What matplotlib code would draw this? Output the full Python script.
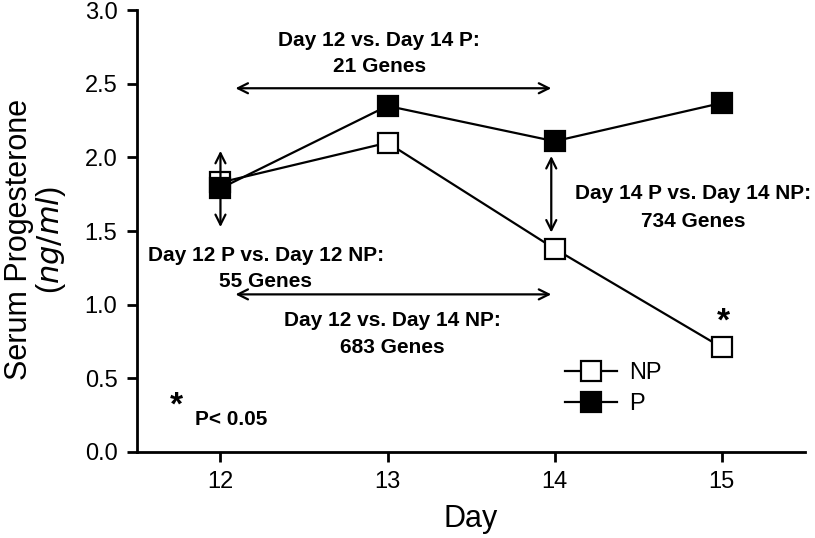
import matplotlib.pyplot as plt

plt.rcParams['font.family'] = ['Liberation Sans', 'DejaVu Sans']

days = [12, 13, 14, 15]
np_vals = [1.83, 2.10, 1.38, 0.71]
p_vals = [1.79, 2.35, 2.11, 2.37]
yticks = [0.0, 0.5, 1.0, 1.5, 2.0, 2.5, 3.0]
ytick_labels = ["0.0", "0.5", "1.0", "1.5", "2.0", "2.5", "3.0"]

fig = plt.figure(figsize=(8.15, 5.38), dpi=100)
ax = fig.add_axes([0.168, 0.160, 0.820, 0.821])

ax.plot(days, np_vals, color="black", lw=1.6, marker="s", ms=15,
        mfc="white", mec="black", mew=1.6, label="NP", zorder=3)
ax.plot(days, p_vals, color="black", lw=1.6, marker="s", ms=15,
        mfc="black", mec="black", mew=1.6, label="P", zorder=3)

# comparison arrows
arrow = dict(arrowstyle="<->", color="black", lw=1.6, mutation_scale=18,
             shrinkA=0, shrinkB=0)
ax.annotate("", xy=(12.09, 2.47), xytext=(13.98, 2.47), arrowprops=arrow)
ax.annotate("", xy=(12.0, 2.045), xytext=(12.0, 1.527), arrowprops=arrow)
ax.annotate("", xy=(13.98, 2.01), xytext=(13.98, 1.49), arrowprops=arrow)
ax.annotate("", xy=(12.09, 1.07), xytext=(13.98, 1.07), arrowprops=arrow)

bold = dict(fontsize=15, fontweight="bold", ha="center", va="baseline")
ax.text(12.95, 2.76, "Day 12 vs. Day 14 P:", **bold)
ax.text(12.95, 2.58, "21 Genes", **bold)
ax.text(12.27, 1.30, "Day 12 P vs. Day 12 NP:", **bold)
ax.text(12.27, 1.12, "55 Genes", **bold)
ax.text(13.03, 0.852, "Day 12 vs. Day 14 NP:", **bold)
ax.text(13.03, 0.675, "683 Genes", **bold)
ax.text(14.83, 1.72, "Day 14 P vs. Day 14 NP:", **bold)
ax.text(14.83, 1.53, "734 Genes", **bold)

star = dict(fontsize=24, fontweight="bold", ha="center", va="center")
ax.text(15.01, 0.88, "*", **star)
ax.text(11.737, 0.31, "*", **star)
ax.text(11.85, 0.184, "P< 0.05", fontsize=15, fontweight="bold",
        ha="left", va="baseline")

ax.legend(loc="center", bbox_to_anchor=(0.713, 0.143), frameon=False,
          fontsize=17, handlelength=2.2, handletextpad=0.5,
          labelspacing=0.4)

ax.set_xlim(11.5, 15.5)
ax.set_ylim(0, 3.0)
ax.set_xticks(days)
ax.set_yticks(yticks)
ax.set_yticklabels(ytick_labels)
ax.tick_params(labelsize=17, width=2, length=7, direction="out", pad=7)
for side in ("top", "right"):
    ax.spines[side].set_visible(False)
for side in ("left", "bottom"):
    ax.spines[side].set_linewidth(2)

ax.set_xlabel("Day", fontsize=22)
ax.xaxis.set_label_coords(0.5, -0.118)
ax.set_ylabel("Serum Progesterone\n($\\it{ng/ml}$)", fontsize=22,
              linespacing=1.0)
ax.yaxis.set_label_coords(-0.103, 0.48)

fig.savefig("out.png", dpi=100)
